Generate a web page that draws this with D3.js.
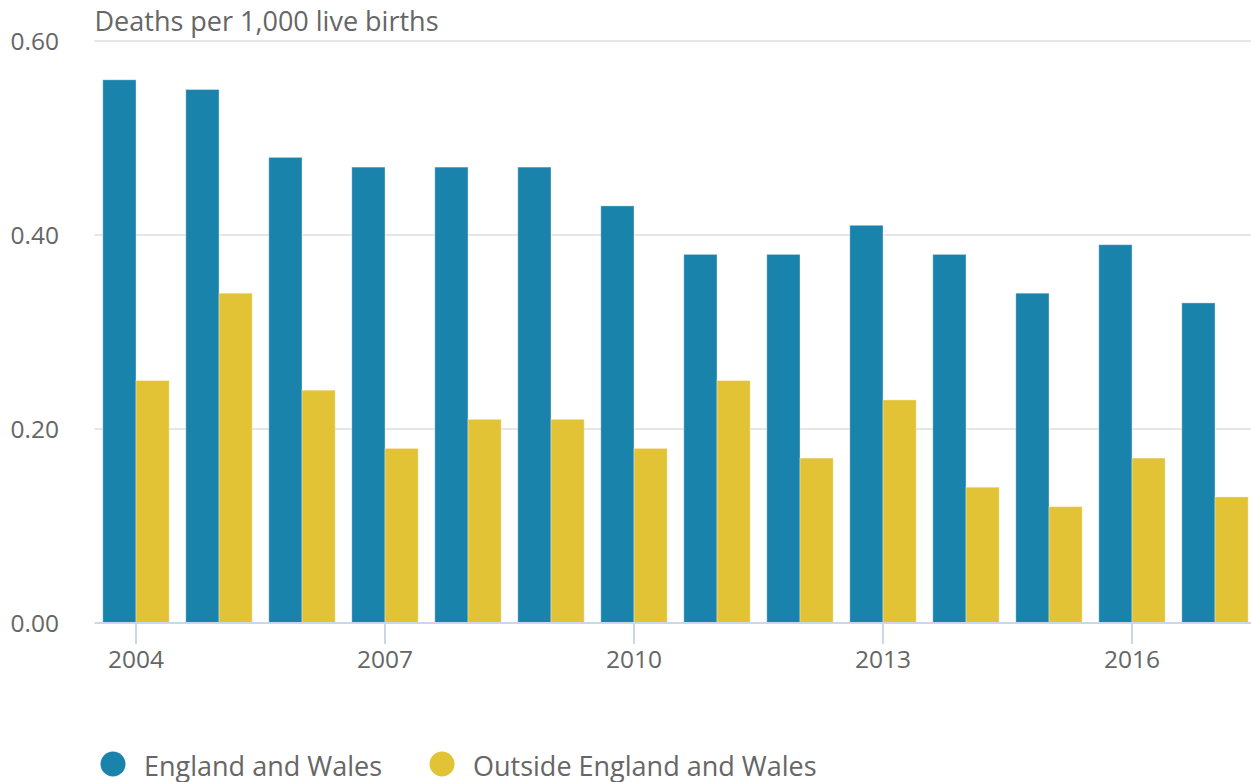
<!DOCTYPE html>
<html>
<head>
<meta charset="utf-8">
<script src="https://cdn.jsdelivr.net/npm/d3@7"></script>
<style>
  body { margin: 0; background: #fff; }
  svg { display: block; font-family: 'Open Sans', sans-serif; }
  .axis text { fill: #666; font-size: 24.5px; font-family: 'Open Sans', sans-serif; }
  .grid line { stroke: #e6e6e6; stroke-width: 2; }
</style>
</head>
<body>
<svg id="chart" width="1251" height="782"></svg>
<script>
const years = [2004, 2005, 2006, 2007, 2008, 2009, 2010, 2011, 2012, 2013, 2014, 2015, 2016, 2017]
const englandWales = [0.56, 0.55, 0.48, 0.47, 0.47, 0.47, 0.43, 0.38, 0.38, 0.41, 0.38, 0.34, 0.39, 0.33]
const outsideEW = [0.25, 0.34, 0.24, 0.18, 0.21, 0.21, 0.18, 0.25, 0.17, 0.23, 0.14, 0.12, 0.17, 0.13]
const seriesNames = ['England and Wales', 'Outside England and Wales']
const colours = ['#1a83ab', '#e2c336']
const yTicks = [0, 0.2, 0.4, 0.6]
const xTickYears = [2004, 2007, 2010, 2013, 2016]
const yTitle = 'Deaths per 1,000 live births'

const svg = d3.select('#chart')
const plot = { left: 94.5, right: 1256.5, top: 41, bottom: 623 }

const x0 = d3.scaleBand().domain(years).range([plot.left, plot.right]).paddingInner(0.2).paddingOuter(0.1)
const x1 = d3.scaleBand().domain(seriesNames).range([0, x0.bandwidth()])
const y = d3.scaleLinear().domain([0, 0.6]).range([plot.bottom, plot.top])

// gridlines
svg.append('g').classed('grid', true)
  .selectAll('line').data(yTicks.filter(d => d > 0)).join('line')
  .attr('x1', plot.left).attr('x2', 1251)
  .attr('y1', d => y(d)).attr('y2', d => y(d))

// y axis labels
const yAxis = d3.axisLeft(y).tickValues(yTicks).tickFormat(d3.format('.2f')).tickSize(0).tickPadding(0)
svg.append('g').classed('axis', true)
  .attr('transform', 'translate(59,0)')
  .call(yAxis)
  .call(g => g.attr('font-family', null).attr('font-size', null))
  .call(g => g.select('.domain').remove())
  .call(g => g.selectAll('text').attr('dy', '0.35em'))

svg.append('text')
  .attr('x', plot.left).attr('y', 31)
  .attr('fill', '#666').attr('font-size', 27)
  .text(yTitle)

// bars
const rows = years.map((yr, i) => ({ year: yr, values: [englandWales[i], outsideEW[i]] }))
svg.append('g').selectAll('g').data(rows).join('g')
  .attr('transform', d => `translate(${x0(d.year)},0)`)
  .selectAll('rect').data(d => d.values.map((v, k) => ({ name: seriesNames[k], value: v, k })))
  .join('rect')
  .attr('x', d => x1(d.name))
  .attr('width', x1.bandwidth())
  .attr('y', d => y(d.value))
  .attr('height', d => y(0) - y(d.value))
  .attr('fill', d => colours[d.k])
  .attr('stroke', '#fff').attr('stroke-opacity', 0.35).attr('stroke-width', 1)

// x axis
const xAxis = d3.axisBottom(x0).tickValues(xTickYears).tickSize(21).tickPadding(7).tickSizeOuter(0)
svg.append('g').classed('axis', true)
  .attr('transform', `translate(0,${plot.bottom})`)
  .call(xAxis)
  .call(g => g.attr('font-family', null).attr('font-size', null))
  .call(g => g.select('.domain').attr('d', `M${plot.left},0H1251`).attr('stroke', '#ccd6eb').attr('stroke-width', 2))
  .call(g => g.selectAll('.tick line').attr('stroke', '#ccd6eb').attr('stroke-width', 2))

// legend
const legendX = [113, 442]
const legend = svg.append('g').selectAll('g').data(seriesNames).join('g')
  .attr('transform', (d, i) => `translate(${legendX[i]},764)`)
legend.append('circle').attr('r', 12.5).attr('fill', (d, i) => colours[i])
legend.append('text').attr('x', 31).attr('y', 12)
  .attr('fill', '#666').attr('font-size', 27).text(d => d)
</script>
</body>
</html>
